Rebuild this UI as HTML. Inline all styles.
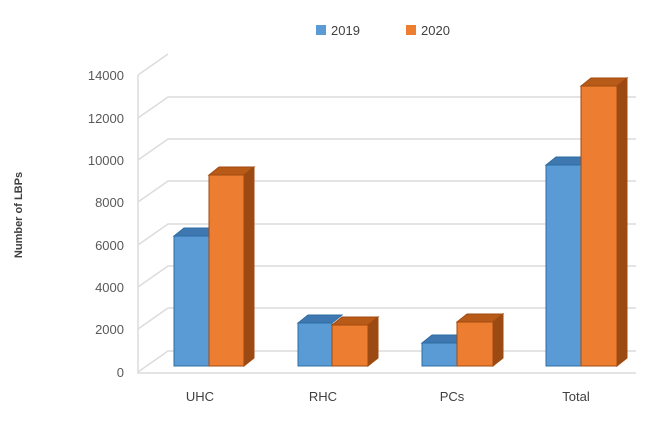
<!DOCTYPE html>
<html><head><meta charset="utf-8"><style>
body{margin:0;background:#fff;}
svg{display:block;font-family:"Liberation Sans",sans-serif;}
</style></head><body>
<svg width="648" height="429" viewBox="0 0 648 429">
<rect width="648" height="429" fill="#fff"/>
<g stroke="#dcdcdc" stroke-width="1.5" fill="none">
<path d="M138 75 L168 54"/>
<path d="M138 118 L168 97 L636 97"/>
<path d="M138 160 L168 139 L636 139"/>
<path d="M138 202 L168 181 L636 181"/>
<path d="M138 245 L168 224 L636 224"/>
<path d="M138 287 L168 266 L636 266"/>
<path d="M138 329 L168 308 L636 308"/>
<path d="M138 372 L168 351 L636 351"/>
<path d="M138 75 L138 373 L636 373"/>
</g>
<g fill="#595959" font-size="13" text-anchor="end">
<text x="124" y="80">14000</text><text x="124" y="123">12000</text>
<text x="124" y="165">10000</text><text x="124" y="207">8000</text>
<text x="124" y="250">6000</text><text x="124" y="292">4000</text>
<text x="124" y="334">2000</text><text x="124" y="377">0</text>
</g>
<text transform="translate(22,215) rotate(-90)" text-anchor="middle" font-size="11" font-weight="bold" fill="#404040">Number of LBPs</text>
<g fill="#404040" font-size="13" text-anchor="middle">
<text x="200" y="401">UHC</text><text x="323" y="401">RHC</text>
<text x="452" y="401">PCs</text><text x="576" y="401">Total</text>
</g>
<rect x="316" y="25" width="10" height="10" fill="#5b9bd5"/>
<text x="331" y="35" font-size="13" fill="#404040">2019</text>
<rect x="406" y="25" width="10" height="10" fill="#ed7d31"/>
<text x="421" y="35" font-size="13" fill="#404040">2020</text>
<g stroke="#2e6da4" stroke-width="1">
<path d="M174 236 L184 228 L219 228 L209 236Z" fill="#3f78b0"/>
<rect x="174" y="236" width="35" height="130" fill="#5b9bd5"/>
<path d="M298 323 L308 315 L342 315 L332 323Z" fill="#3f78b0"/>
<rect x="298" y="323" width="34" height="43" fill="#5b9bd5"/>
<path d="M422 343 L432 335 L467 335 L457 343Z" fill="#3f78b0"/>
<rect x="422" y="343" width="35" height="23" fill="#5b9bd5"/>
<path d="M546 165 L556 157 L591 157 L581 165Z" fill="#3f78b0"/>
<rect x="546" y="165" width="35" height="201" fill="#5b9bd5"/>
</g>
<g stroke="#a04a10" stroke-width="1">
<path d="M209 175 L219 167 L254 167 L244 175Z" fill="#b85a18"/>
<path d="M244 175 L254 167 L254 358 L244 366Z" fill="#9c4a14"/>
<rect x="209" y="175" width="35" height="191" fill="#ed7d31"/>
<path d="M332 325 L342 317 L378 317 L368 325Z" fill="#b85a18"/>
<path d="M368 325 L378 317 L378 358 L368 366Z" fill="#9c4a14"/>
<rect x="332" y="325" width="36" height="41" fill="#ed7d31"/>
<path d="M457 322 L467 314 L503 314 L493 322Z" fill="#b85a18"/>
<path d="M493 322 L503 314 L503 358 L493 366Z" fill="#9c4a14"/>
<rect x="457" y="322" width="36" height="44" fill="#ed7d31"/>
<path d="M581 86 L591 78 L627 78 L617 86Z" fill="#b85a18"/>
<path d="M617 86 L627 78 L627 358 L617 366Z" fill="#9c4a14"/>
<rect x="581" y="86" width="36" height="280" fill="#ed7d31"/>
</g>
</svg>
</body></html>
